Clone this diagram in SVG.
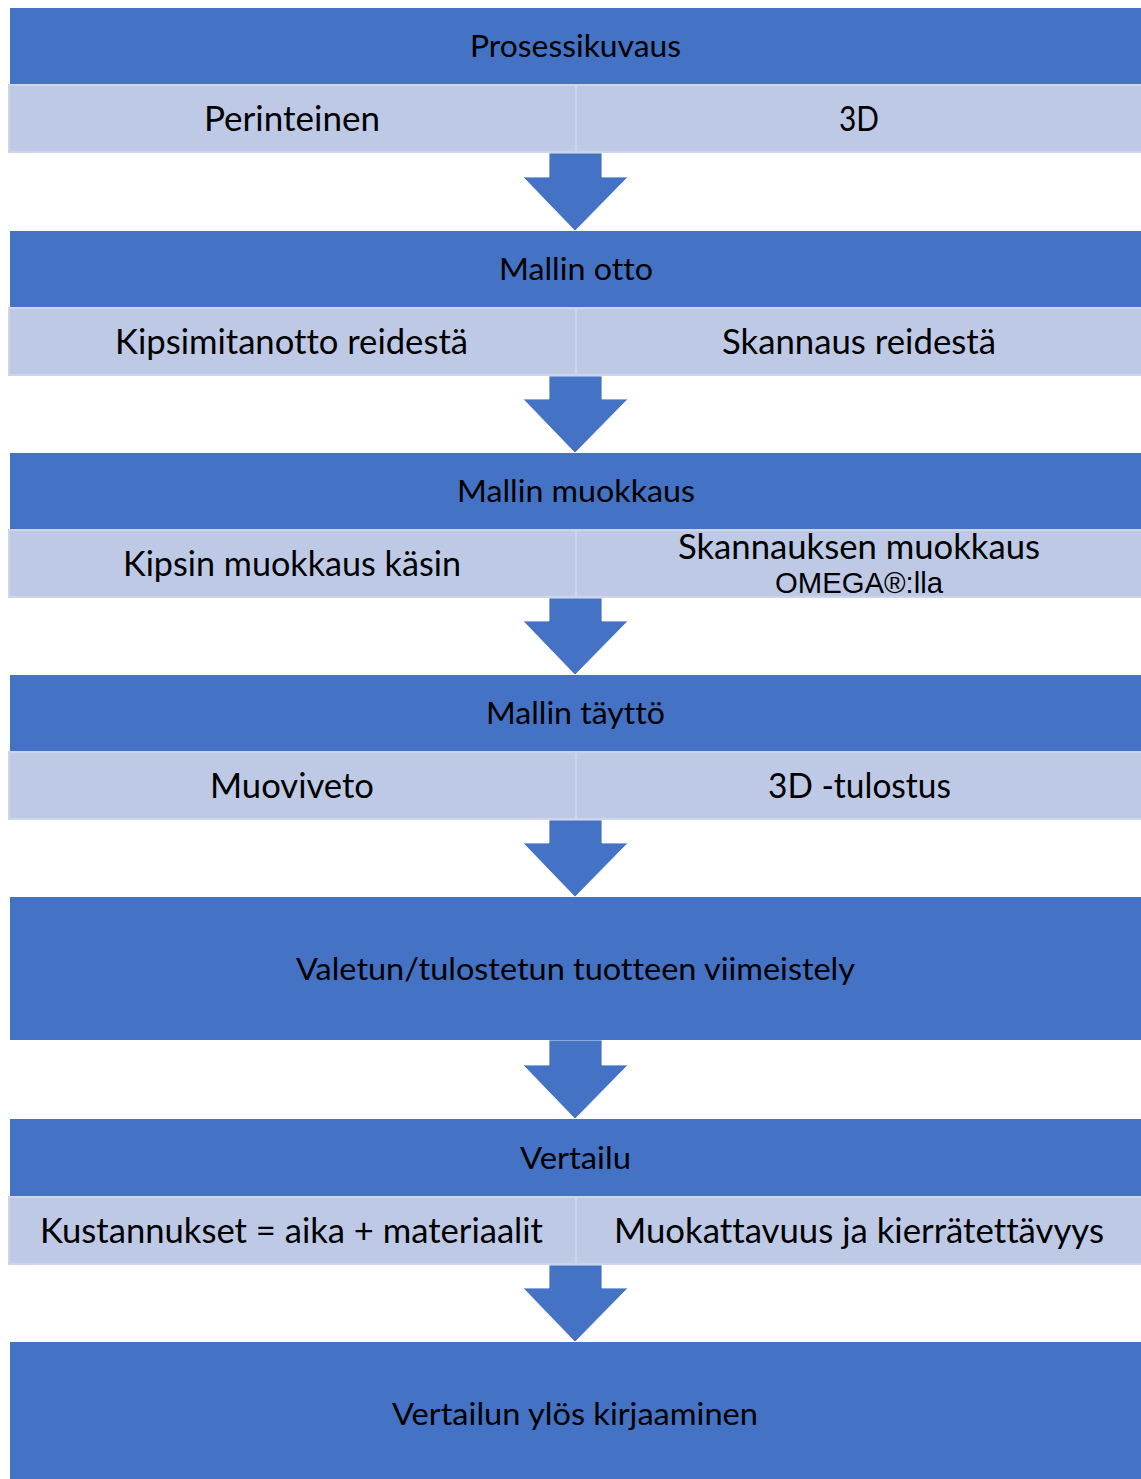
<svg xmlns="http://www.w3.org/2000/svg" width="1141" height="1479" viewBox="0 0 1141 1479">
<style>
.hd{fill:#4472C4}
.row{fill:#BEC9E5;stroke:#CDD5EB;stroke-width:2}
.div{stroke:#CDD5EB;stroke-width:2}
.arr{fill:#4472C4;stroke:#FFFFFF;stroke-width:0.8}
.t{font-family:Lato,"Open Sans","DejaVu Sans",sans-serif;fill:#000;text-anchor:middle;font-variant-ligatures:none}
.th{font-size:31.5px}
.tr{font-size:34.5px}
.ta{font-family:"Liberation Sans",Arial,sans-serif;font-size:29px;fill:#000;text-anchor:middle}
</style>
<rect width="1141" height="1479" fill="#FFFFFF"/>
<g id="connectors">
<polygon class="arr" points="549,153 602,153 602,177 628,177 575,231 523,177 549,177"/>
<polygon class="arr" points="549,376 602,376 602,399 628,399 575,453 523,399 549,399"/>
<polygon class="arr" points="549,598 602,598 602,621 628,621 575,675 523,621 549,621"/>
<polygon class="arr" points="549,820 602,820 602,843 628,843 575,897 523,843 549,843"/>
<polygon class="arr" points="549,1040 602,1040 602,1065 628,1065 575,1119 523,1065 549,1065"/>
<polygon class="arr" points="549,1265 602,1265 602,1288 628,1288 575,1342 523,1288 549,1288"/>
</g>
<g id="prosessikuvaus">
<rect class="hd" x="10" y="8" width="1131" height="76"/>
<text class="t th" x="575.5" y="57" textLength="211" lengthAdjust="spacingAndGlyphs">Prosessikuvaus</text>
</g>
<g id="row1">
<rect class="row" x="9" y="85" width="1133" height="67"/>
<line class="div" x1="576" y1="85" x2="576" y2="152"/>
<text class="t tr" x="292" y="131" textLength="176" lengthAdjust="spacingAndGlyphs">Perinteinen</text>
<text class="t tr" x="859" y="131" textLength="40" lengthAdjust="spacingAndGlyphs">3D</text>
</g>
<g id="mallin-otto">
<rect class="hd" x="10" y="231" width="1131" height="76"/>
<text class="t th" x="576" y="280" textLength="154" lengthAdjust="spacingAndGlyphs">Mallin otto</text>
</g>
<g id="row2">
<rect class="row" x="9" y="308" width="1133" height="67"/>
<line class="div" x1="576" y1="308" x2="576" y2="375"/>
<text class="t tr" x="291.5" y="354" textLength="353" lengthAdjust="spacingAndGlyphs">Kipsimitanotto reidestä</text>
<text class="t tr" x="859" y="354" textLength="274" lengthAdjust="spacingAndGlyphs">Skannaus reidestä</text>
</g>
<g id="mallin-muokkaus">
<rect class="hd" x="10" y="453" width="1131" height="76"/>
<text class="t th" x="576" y="502" textLength="238" lengthAdjust="spacingAndGlyphs">Mallin muokkaus</text>
</g>
<g id="row3">
<rect class="row" x="9" y="530" width="1133" height="67"/>
<line class="div" x1="576" y1="530" x2="576" y2="597"/>
<text class="t tr" x="292" y="576" textLength="338" lengthAdjust="spacingAndGlyphs">Kipsin muokkaus käsin</text>
<text class="t tr" x="859" y="559" textLength="362" lengthAdjust="spacingAndGlyphs">Skannauksen muokkaus</text>
<text class="ta" x="859" y="593" textLength="168" lengthAdjust="spacingAndGlyphs">OMEGA®:lla</text>
</g>
<g id="mallin-tayttö">
<rect class="hd" x="10" y="675" width="1131" height="76"/>
<text class="t th" x="575.5" y="724" textLength="179" lengthAdjust="spacingAndGlyphs">Mallin täyttö</text>
</g>
<g id="row4">
<rect class="row" x="9" y="752" width="1133" height="67"/>
<line class="div" x1="576" y1="752" x2="576" y2="819"/>
<text class="t tr" x="292" y="798" textLength="164" lengthAdjust="spacingAndGlyphs">Muoviveto</text>
<text class="t tr" x="859.5" y="798" textLength="183" lengthAdjust="spacingAndGlyphs">3D -tulostus</text>
</g>
<g id="viimeistely">
<rect class="hd" x="10" y="897" width="1131" height="143"/>
<text class="t th" x="575.5" y="980" textLength="559" lengthAdjust="spacingAndGlyphs">Valetun/tulostetun tuotteen viimeistely</text>
</g>
<g id="vertailu">
<rect class="hd" x="10" y="1119" width="1131" height="77"/>
<text class="t th" x="575.5" y="1169" textLength="111" lengthAdjust="spacingAndGlyphs">Vertailu</text>
</g>
<g id="row6">
<rect class="row" x="9" y="1197" width="1133" height="67"/>
<line class="div" x1="576" y1="1197" x2="576" y2="1264"/>
<text class="t tr" x="291.5" y="1243" textLength="503" lengthAdjust="spacingAndGlyphs">Kustannukset = aika + materiaalit</text>
<text class="t tr" x="859" y="1243" textLength="490" lengthAdjust="spacingAndGlyphs">Muokattavuus ja kierrätettävyys</text>
</g>
<g id="kirjaaminen">
<rect class="hd" x="10" y="1342" width="1131" height="137"/>
<text class="t th" x="575" y="1425" textLength="366" lengthAdjust="spacingAndGlyphs">Vertailun ylös kirjaaminen</text>
</g>
</svg>
